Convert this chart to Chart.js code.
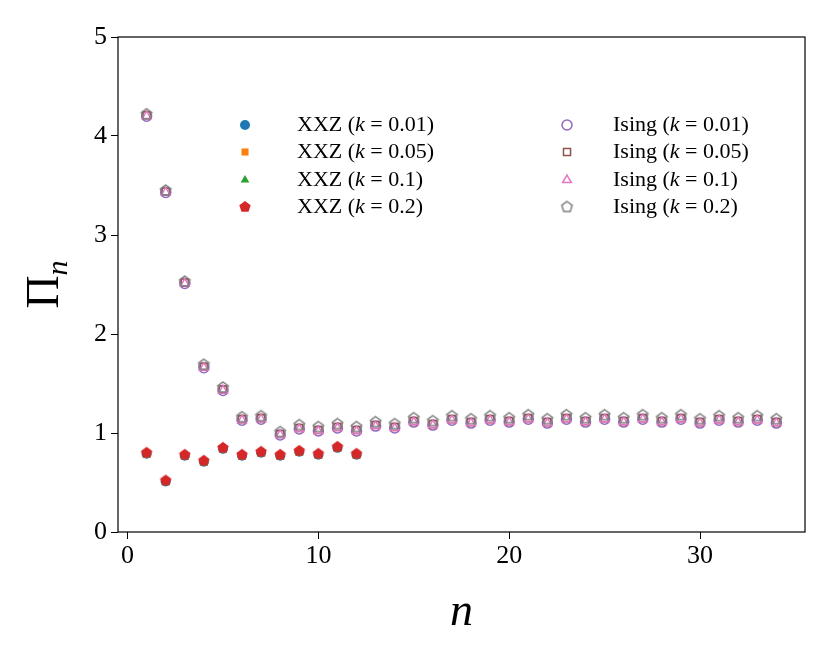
<!DOCTYPE html>
<html><head><meta charset="utf-8">
<script src="https://cdn.jsdelivr.net/npm/chart.js@4/dist/chart.umd.min.js"></script>
<style>body{margin:0;background:#fff}#w{width:830px;height:664px}</style>
</head><body><div id="w"><canvas id="c"></canvas></div>
<script>
const nXXZ=[1,2,3,4,5,6,7,8,9,10,11,12];
const xxz001=[0.79,0.51,0.77,0.71,0.84,0.77,0.80,0.77,0.81,0.78,0.85,0.78];
const xxz005=[0.79,0.51,0.77,0.71,0.84,0.77,0.80,0.77,0.81,0.78,0.85,0.78];
const xxz01=[0.78,0.50,0.76,0.70,0.83,0.76,0.79,0.76,0.80,0.77,0.84,0.77];
const xxz02=[0.80,0.52,0.78,0.72,0.85,0.78,0.81,0.78,0.82,0.79,0.86,0.79];
const nIsing=[];for(let i=1;i<=34;i++)nIsing.push(i);
const ising001=[4.20,3.43,2.51,1.66,1.43,1.13,1.14,0.98,1.04,1.02,1.05,1.02,1.07,1.05,1.11,1.08,1.13,1.10,1.13,1.11,1.14,1.10,1.14,1.11,1.14,1.11,1.14,1.11,1.14,1.10,1.13,1.11,1.13,1.10];
const ising005=[4.21,3.44,2.52,1.67,1.44,1.14,1.15,0.99,1.05,1.03,1.06,1.03,1.08,1.06,1.12,1.09,1.14,1.11,1.14,1.12,1.15,1.11,1.15,1.12,1.15,1.12,1.15,1.12,1.15,1.11,1.14,1.12,1.14,1.11];
const ising01=[4.20,3.43,2.51,1.66,1.43,1.13,1.14,0.98,1.04,1.02,1.05,1.02,1.07,1.05,1.11,1.08,1.13,1.10,1.13,1.11,1.14,1.10,1.14,1.11,1.14,1.11,1.14,1.11,1.14,1.10,1.13,1.11,1.13,1.10];
const ising02=[4.22,3.45,2.53,1.69,1.46,1.16,1.17,1.01,1.08,1.06,1.09,1.06,1.11,1.09,1.15,1.12,1.17,1.14,1.17,1.15,1.18,1.14,1.18,1.15,1.18,1.15,1.18,1.15,1.18,1.14,1.17,1.15,1.17,1.14];
const xTicks=[0,10,20,30];
const yTicks=[0,1,2,3,4,5];
const labels=["XXZ (k = 0.01)","XXZ (k = 0.05)","XXZ (k = 0.1)","XXZ (k = 0.2)","Ising (k = 0.01)","Ising (k = 0.05)","Ising (k = 0.1)","Ising (k = 0.2)"];
const colors=['#1f77b4','#ff7f0e','#2ca02c','#d62728','#9467bd','#8c564b','#e377c2','#7f7f7f'];

function pentagon(color,fill,r){
  const c=document.createElement('canvas');const s=Math.ceil(r*2+4);c.width=s;c.height=s;
  const g=c.getContext('2d');g.beginPath();
  for(let i=0;i<5;i++){const a=-Math.PI/2+i*2*Math.PI/5;const x=s/2+r*Math.cos(a),y=s/2+r*Math.sin(a);i?g.lineTo(x,y):g.moveTo(x,y);}
  g.closePath();
  if(fill){g.fillStyle=color;g.fill();}else{g.strokeStyle=color;g.lineWidth=1.5;g.stroke();}
  return c;
}
const styles=['circle','rect','triangle',pentagon(colors[3],true,6),'circle','rect','triangle',pentagon(colors[7],false,5.5)];
const series=[[nXXZ,xxz001],[nXXZ,xxz005],[nXXZ,xxz01],[nXXZ,xxz02],[nIsing,ising001],[nIsing,ising005],[nIsing,ising01],[nIsing,ising02]];
const datasets=series.map((s,i)=>({
  label:labels[i],
  data:s[0].map((x,j)=>({x:x,y:s[1][j]})),
  showLine:false,
  pointStyle:styles[i],
  pointRadius:5,
  pointBorderWidth:i<4?0:1.5,
  pointBackgroundColor:i<4?colors[i]:'rgba(0,0,0,0)',
  pointBorderColor:colors[i],
  order:8-i
}));
const SERIF='"Liberation Serif","DejaVu Serif",serif';
const deco={id:'deco',afterDraw(ch){
  const g=ch.ctx,a=ch.chartArea;
  g.save();g.strokeStyle='#000';g.lineWidth=1.2;g.strokeRect(a.left,a.top,a.right-a.left,a.bottom-a.top);
  g.fillStyle='#000';g.textBaseline='alphabetic';
  g.font='italic 46px '+SERIF;g.textAlign='center';g.fillText('n',(a.left+a.right)/2,625);
  g.save();g.translate(58,(a.top+a.bottom)/2);g.rotate(-Math.PI/2);
  g.font='46px '+SERIF;g.textAlign='left';const w=g.measureText('Π').width;
  g.font='italic 30px '+SERIF;const w2=g.measureText('n').width;
  const x0=-(w+w2)/2;g.font='46px '+SERIF;g.fillText('Π',x0,0);
  g.font='italic 30px '+SERIF;g.fillText('n',x0+w,9);g.restore();
  const cols=[[245,297],[567,613]],rows=[125,152,180,207];
  ch.data.datasets.forEach((d,i)=>{
    const c=cols[Math.floor(i/4)],y=rows[i%4];
    const p={pointStyle:d.pointStyle,radius:5,rotation:0,borderWidth:d.pointBorderWidth};
    g.fillStyle=d.pointBackgroundColor;g.strokeStyle=d.pointBorderColor;g.lineWidth=d.pointBorderWidth||0.01;
    Chart.helpers.drawPoint(g,p,c[0],y);
    const parts=d.label.match(/^(.*\()k( = )(.*\))$/);
    let x=c[1];g.fillStyle='#000';g.textAlign='left';g.textBaseline='middle';
    const seg=[[parts[1],false],['k',true],[parts[2],false],[parts[3],false]];
    seg.forEach(([t,it])=>{g.font=(it?'italic ':'')+'22px '+SERIF;g.fillText(t,x,y);x+=g.measureText(t).width;});
  });
  g.restore();
}};
new Chart(document.getElementById('c'),{
  type:'scatter',
  data:{datasets},
  options:{
    responsive:true,maintainAspectRatio:false,animation:false,
    layout:{padding:{top:37,right:25,left:0,bottom:0}},
    plugins:{legend:{display:false},tooltip:{enabled:false}},
    scales:{
      x:{type:'linear',min:-0.5,max:35.5,
        afterBuildTicks:s=>{s.ticks=xTicks.map(v=>({value:v}));},
        afterFit:s=>{s.height=132;},
        grid:{drawOnChartArea:false,drawTicks:true,tickLength:7,color:'#000'},
        border:{display:false},
        ticks:{color:'#000',font:{family:SERIF,size:26},padding:2,maxRotation:0}},
      y:{type:'linear',min:0,max:5,
        afterBuildTicks:s=>{s.ticks=yTicks.map(v=>({value:v}));},
        afterFit:s=>{s.width=118;},
        grid:{drawOnChartArea:false,drawTicks:true,tickLength:7,color:'#000'},
        border:{display:false},
        ticks:{color:'#000',font:{family:SERIF,size:26},padding:4}}
    }
  },
  plugins:[deco]
});
</script></body></html>
